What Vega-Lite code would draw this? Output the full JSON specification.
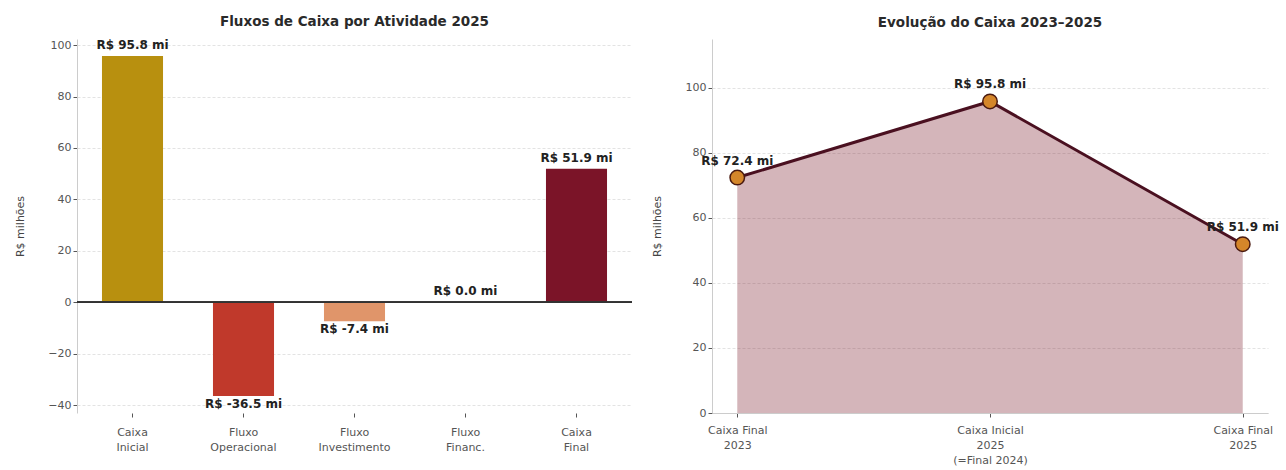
{
  "$schema": "https://vega.github.io/schema/vega-lite/v6.json",
  "background": "white",
  "padding": {"left": 14, "top": 15, "right": 5, "bottom": 3},
  "config": {
    "font": "DejaVu Sans",
    "view": {"stroke": null},
    "axis": {
      "labelFont": "DejaVu Sans",
      "titleFont": "DejaVu Sans",
      "labelFontSize": 11,
      "labelColor": "#555555",
      "titleFontSize": 11,
      "titleFontWeight": "normal",
      "titleColor": "#444444",
      "domainColor": "#cccccc",
      "tickColor": "#555555",
      "tickSize": 4,
      "gridColor": "#e3e3e3",
      "gridDash": [3, 2]
    },
    "title": {"font": "DejaVu Sans", "fontSize": 13.5, "fontWeight": "bold", "color": "#2a2a2a", "offset": 10}
  },
  "datasets": {
    "fluxos": [
      {"categoria": "Caixa\nInicial", "valor": 95.8, "label": "R$ 95.8 mi"},
      {"categoria": "Fluxo\nOperacional", "valor": -36.5, "label": "R$ -36.5 mi"},
      {"categoria": "Fluxo\nInvestimento", "valor": -7.4, "label": "R$ -7.4 mi"},
      {"categoria": "Fluxo\nFinanc.", "valor": 0.0, "label": "R$ 0.0 mi"},
      {"categoria": "Caixa\nFinal", "valor": 51.9, "label": "R$ 51.9 mi"}
    ],
    "evolucao": [
      {"periodo": "Caixa Final\n2023", "caixa": 72.4, "label": "R$ 72.4 mi"},
      {"periodo": "Caixa Inicial\n2025\n(=Final 2024)", "caixa": 95.8, "label": "R$ 95.8 mi"},
      {"periodo": "Caixa Final\n2025", "caixa": 51.9, "label": "R$ 51.9 mi"}
    ]
  },
  "hconcat": [
    {
      "title": "Fluxos de Caixa por Atividade 2025",
      "width": 555,
      "height": 374,
      "data": {"name": "fluxos"},
      "encoding": {
        "x": {
          "field": "categoria", "type": "nominal", "sort": null,
          "scale": {"paddingInner": 0.45, "paddingOuter": 0.225},
          "axis": {"title": null, "labelAngle": 0, "labelExpr": "split(datum.label, '\\n')", "labelLineHeight": 15, "labelPadding": 9, "domain": false, "grid": false}
        },
        "y": {
          "field": "valor", "type": "quantitative",
          "scale": {"domain": [-43.1, 102.4], "nice": false, "zero": false},
          "axis": {"title": "R$ milhões", "values": [-40, -20, 0, 20, 40, 60, 80, 100], "grid": true, "titlePadding": 22}
        }
      },
      "layer": [
        {
          "mark": {"type": "bar"},
          "encoding": {
            "color": {
              "field": "categoria", "type": "nominal", "legend": null,
              "scale": {
                "domain": ["Caixa\nInicial", "Fluxo\nOperacional", "Fluxo\nInvestimento", "Fluxo\nFinanc.", "Caixa\nFinal"],
                "range": ["#B8900F", "#C0392B", "#E0956A", "#2E86C1", "#7B1428"]
              }
            }
          }
        },
        {
          "mark": {"type": "rule", "color": "#333333", "strokeWidth": 1.3},
          "encoding": {"y": {"datum": 0}, "x": {}}
        },
        {
          "transform": [{"filter": "datum.valor >= 0"}],
          "mark": {"type": "text", "fontWeight": "bold", "fontSize": 12, "baseline": "bottom", "dy": -4, "color": "#222222"},
          "encoding": {"text": {"field": "label"}}
        },
        {
          "transform": [{"filter": "datum.valor < 0"}],
          "mark": {"type": "text", "fontWeight": "bold", "fontSize": 12, "baseline": "top", "dy": 3, "color": "#222222"},
          "encoding": {"text": {"field": "label"}}
        }
      ]
    },
    {
      "title": "Evolução do Caixa 2023–2025",
      "width": 556,
      "height": 374,
      "data": {"name": "evolucao"},
      "encoding": {
        "x": {
          "field": "periodo", "type": "ordinal", "sort": null,
          "scale": {"type": "point", "padding": 0.1},
          "axis": {"title": null, "labelAngle": 0, "labelExpr": "split(datum.label, '\\n')", "labelLineHeight": 15, "labelPadding": 7, "grid": false}
        },
        "y": {
          "field": "caixa", "type": "quantitative",
          "scale": {"domain": [0, 115], "nice": false},
          "axis": {"title": "R$ milhões", "values": [0, 20, 40, 60, 80, 100], "grid": true, "titlePadding": 23}
        }
      },
      "layer": [
        {
          "mark": {"type": "area", "color": "#7B1E2E", "opacity": 0.33}
        },
        {
          "mark": {"type": "line", "color": "#4A1020", "strokeWidth": 3}
        },
        {
          "mark": {"type": "point", "filled": true, "fill": "#D4862A", "stroke": "#4A1A10", "strokeWidth": 1.5, "size": 210, "opacity": 1}
        },
        {
          "mark": {"type": "text", "fontWeight": "bold", "fontSize": 12, "baseline": "middle", "dy": -17, "color": "#222222"},
          "encoding": {"text": {"field": "label"}}
        }
      ]
    }
  ],
  "spacing": 80,
  "bounds": "flush"
}
